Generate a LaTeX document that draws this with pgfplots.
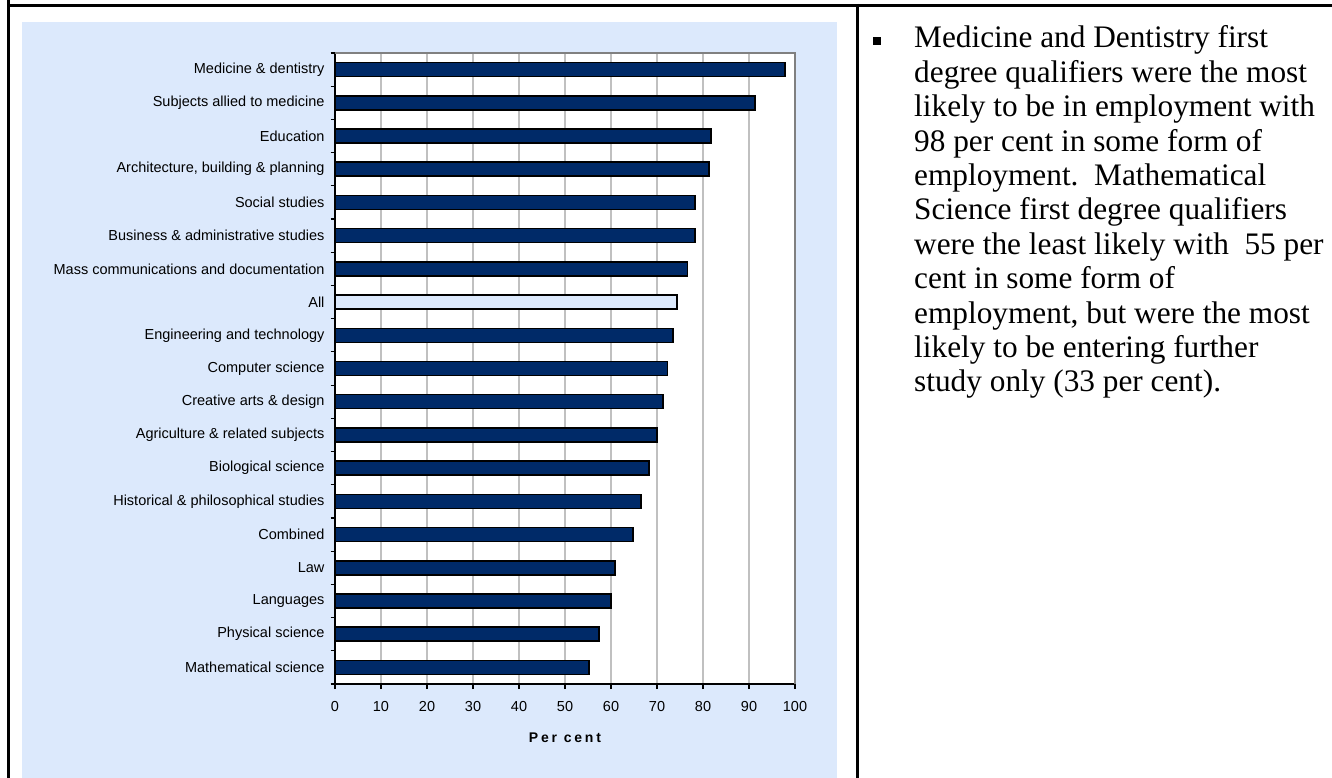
\documentclass[border=0pt]{standalone}
\usepackage{fontspec}
\setmainfont{Liberation Serif}
\newfontfamily\arialf{Liberation Sans}
\usepackage{pgfplots}
\pgfplotsset{compat=1.18}
\definecolor{panel}{RGB}{220,233,252}
\definecolor{navy}{RGB}{0,42,104}
\definecolor{gridc}{RGB}{192,192,192}
\definecolor{boxc}{RGB}{128,128,128}
\begin{document}
\begin{tikzpicture}
\useasboundingbox (0pt,0pt) rectangle (1332pt,778pt);
\fill[panel] (22pt,0pt) rectangle (837pt,756pt);
\draw[line width=3pt] (7pt,772.5pt) -- (1332pt,772.5pt);
\draw[line width=3pt] (8.5pt,778pt) -- (8.5pt,0pt);
\draw[line width=3pt] (857pt,774pt) -- (857pt,0pt);
\begin{axis}[
  at={(335pt,94pt)}, anchor=south west,
  scale only axis, width=460pt, height=631pt,
  xmin=0, xmax=100, ymin=-0.5, ymax=18.5,
  xtick={0,10,...,100},
  ytick={0,...,18},
  yticklabels={{Mathematical science},{Physical science},{Languages},{Law},{Combined},{Historical \& philosophical studies},{Biological science},{Agriculture \& related subjects},{Creative arts \& design},{Computer science},{Engineering and technology},{All},{Mass communications and documentation},{Business \& administrative studies},{Social studies},{Architecture, building \& planning},{Education},{Subjects allied to medicine},{Medicine \& dentistry}},
  minor ytick={-0.5,0.5,...,18.5},
  major y tick style={draw=none},
  tick align=outside,
  major tick length=5pt, minor tick length=4.5pt,
  tick style={black, line width=1.2pt},
  xmajorgrids,
  major grid style={gridc, line width=1.6pt},
  axis lines*=left,
  axis line style={black, line width=1.6pt},
  axis background/.style={fill=white},
  /pgf/number format/assume math mode=true,
  ticklabel style={font=\arialf\fontsize{14.5}{17}\selectfont, text=black},
  xticklabel style={yshift=-9pt},
  yticklabel style={xshift=-2pt},
  xlabel={\arialf\bfseries\addfontfeature{LetterSpace=20}Per cent},
  xlabel style={font=\fontsize{14}{16}\selectfont, at={(axis description cs:0.5,0)}, anchor=center, yshift=-54pt},
  clip=false,
]
\draw[boxc, line width=2pt] (axis description cs:0,1) -- (axis description cs:1,1) -- (axis description cs:1,0);
\addplot[xbar, bar width=14pt, bar shift=0pt, fill=navy, draw=black, line width=1.5pt] coordinates {
  (55.2,0) (57.4,1) (60.0,2) (60.9,3) (64.8,4) (66.5,5) (68.3,6) (70.0,7) (71.3,8) (72.3,9) (73.5,10)
  (76.6,12) (78.3,13) (78.3,14) (81.3,15) (81.7,16) (91.3,17) (97.8,18)
};
\addplot[xbar, bar width=14pt, bar shift=0pt, fill=panel, draw=black, line width=1.5pt] coordinates {
  (74.3,11)
};
\end{axis}
\fill[black] (872.5pt,732.5pt) rectangle (880.5pt,740.5pt);
\begin{scope}[every node/.style={anchor=base west, inner sep=0pt, font=\fontsize{31.3}{34.4}\selectfont}]
\node at (914pt,730pt) {Medicine and Dentistry first};
\node at (914pt,695.6pt) {degree qualifiers were the most};
\node at (914pt,661.2pt) {likely to be in employment with};
\node at (914pt,626.8pt) {98 per cent in some form of};
\node at (914pt,592.4pt) {employment.\ \ Mathematical};
\node at (914pt,558pt) {Science first degree qualifiers};
\node at (914pt,523.6pt) {were the least likely with\ \ 55 per};
\node at (914pt,489.2pt) {cent in some form of};
\node at (914pt,454.8pt) {employment, but were the most};
\node at (914pt,420.4pt) {likely to be entering further};
\node at (914pt,386pt) {study only (33 per cent).};
\end{scope}
\end{tikzpicture}
\end{document}
